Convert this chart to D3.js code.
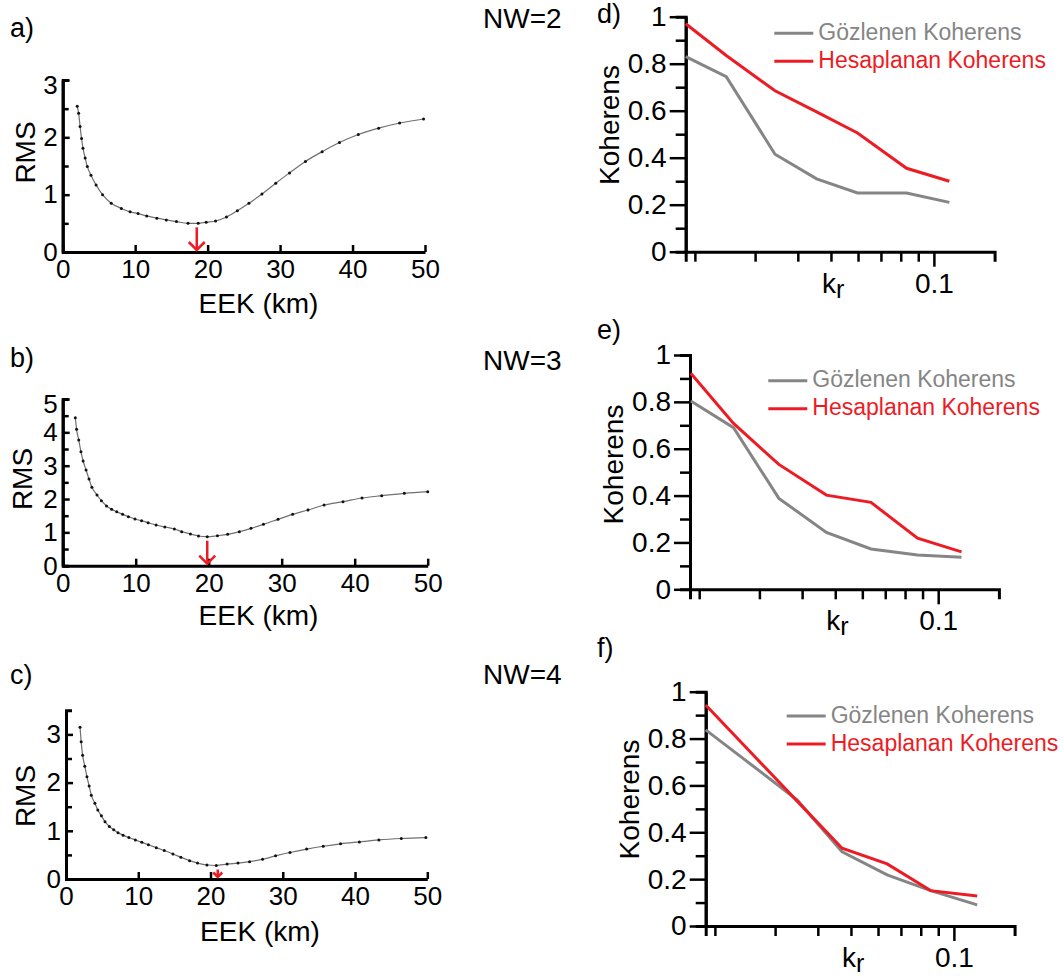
<!DOCTYPE html>
<html><head><meta charset="utf-8">
<script src="https://cdn.jsdelivr.net/npm/d3@7"></script>
<style>
body{margin:0;background:#fff;}
svg{display:block;font-family:"Liberation Sans", Arial, sans-serif;}
</style></head><body>
<svg id="chart" width="1064" height="978"></svg>
<script>
// ---------------- DATA ----------------
const eekA = [2.0, 2.2, 2.4, 2.6, 2.8, 3.1, 3.4, 3.9, 4.6, 5.5, 6.7, 8.1, 9.3, 10.4, 11.6, 13.0, 14.3, 15.7, 17.3, 18.7, 19.8, 21.1, 22.6, 24.1, 25.7, 27.5, 29.4, 31.3, 33.5, 35.8, 38.2, 40.8, 43.6, 46.5, 49.8];
const rmsA = [2.54, 2.42, 2.19, 1.98, 1.81, 1.64, 1.49, 1.34, 1.17, 1.0, 0.85, 0.76, 0.70, 0.67, 0.63, 0.59, 0.56, 0.53, 0.50, 0.50, 0.52, 0.54, 0.61, 0.72, 0.85, 1.01, 1.20, 1.38, 1.58, 1.75, 1.91, 2.05, 2.16, 2.25, 2.32];

const eekB = [1.73, 1.9, 2.2, 2.5, 2.8, 3.2, 3.6, 4.0, 4.7, 5.3, 6.0, 6.7, 7.4, 8.2, 9.0, 9.9, 10.8, 11.7, 12.8, 14.0, 15.3, 16.3, 17.5, 18.6, 19.8, 21.2, 22.6, 24.2, 25.8, 27.5, 29.5, 31.5, 33.6, 35.8, 38.4, 41.0, 43.7, 46.8, 50.0];
const rmsB = [4.44, 4.09, 3.77, 3.42, 3.14, 2.87, 2.6, 2.35, 2.12, 1.95, 1.79, 1.69, 1.62, 1.54, 1.47, 1.40, 1.35, 1.29, 1.22, 1.16, 1.10, 1.02, 0.95, 0.89, 0.87, 0.90, 0.94, 1.02, 1.12, 1.24, 1.39, 1.54, 1.67, 1.82, 1.92, 2.03, 2.10, 2.17, 2.22];

const eekC = [1.94, 2.1, 2.3, 2.6, 2.9, 3.2, 3.5, 4.0, 4.4, 4.9, 5.4, 6.0, 6.6, 7.2, 7.9, 8.7, 9.6, 10.5, 11.4, 12.5, 13.6, 14.8, 15.9, 17.1, 18.2, 19.5, 20.8, 22.3, 23.8, 25.4, 27.2, 29.0, 31.0, 33.3, 35.6, 38.0, 40.6, 43.3, 46.4, 49.8];
const rmsC = [3.15, 2.85, 2.57, 2.34, 2.12, 1.93, 1.74, 1.57, 1.43, 1.31, 1.19, 1.09, 1.02, 0.96, 0.91, 0.86, 0.81, 0.76, 0.71, 0.65, 0.59, 0.52, 0.45, 0.38, 0.33, 0.29, 0.28, 0.31, 0.33, 0.36, 0.41, 0.48, 0.55, 0.62, 0.68, 0.73, 0.77, 0.81, 0.84, 0.86];

const bestEEK = [18.5, 19.8, 21.0];          // red arrows (minimum RMS)
const rmsMax = [3, 5, 3.5];
const rmsTicks = [[0, 1, 2, 3], [0, 1, 2, 3, 4, 5], [0, 1, 2, 3]];
const eekTicks = [0, 10, 20, 30, 40, 50];

const krD = [0.0188, 0.0247, 0.0343, 0.0454, 0.0598, 0.0832, 0.111];
const obsD = [0.83, 0.745, 0.415, 0.31, 0.25, 0.25, 0.21];
const calcD = [0.97, 0.835, 0.685, 0.595, 0.505, 0.355, 0.30];

const krE = [0.0189, 0.0252, 0.0342, 0.0471, 0.0636, 0.087, 0.117];
const obsE = [0.804, 0.69, 0.388, 0.243, 0.172, 0.146, 0.137];
const calcE = [0.922, 0.708, 0.533, 0.402, 0.371, 0.218, 0.16];

const krF = [0.0188, 0.0246, 0.0348, 0.0471, 0.0638, 0.0855, 0.117];
const obsF = [0.837, 0.707, 0.538, 0.317, 0.218, 0.151, 0.09];
const calcF = [0.943, 0.764, 0.533, 0.332, 0.265, 0.151, 0.128];

const cohTicks = [0, 0.2, 0.4, 0.6, 0.8, 1];
const cohMinor = [0.1, 0.3, 0.5, 0.7, 0.9];
const krMinor = [0.02, 0.03, 0.04, 0.05, 0.06, 0.07, 0.08, 0.09];
const krMajor = [0.1];

const nwLabels = ["NW=2", "NW=3", "NW=4"];
const leftTags = ["a)", "b)", "c)"];
const rightTags = ["d)", "e)", "f)"];
const legendLabels = ["Gözlenen Koherens", "Hesaplanan Koherens"];
const colObs = "#858585", colCalc = "#ed1c24";

// ---------------- LAYOUT ----------------
const leftLayout = [
  {left: 62.7, right: 425, bottom: 252, top: 80, tagY: 37, nwY: 28, rmsX: 35, rmsY: 152.5, eekX: 258.5, eekY: 313},
  {left: 62.7, right: 427.7, bottom: 565.7, top: 399, tagY: 367, nwY: 370, rmsX: 32, rmsY: 479, eekX: 258.5, eekY: 625},
  {left: 66, right: 427.3, bottom: 879, top: 710.3, tagY: 684, nwY: 684, rmsX: 35, rmsY: 796, eekX: 260, eekY: 941}
];
const rightLayout = [
  {left: 685.7, bottom: 251.7, top: 16.7, tagY: 23, kohX: 619, kohY: 125, legX: 774.3, legY: 33.3},
  {left: 690, bottom: 589.3, top: 355, tagY: 339, kohX: 623, kohY: 464.5, legX: 768.3, legY: 380.7},
  {left: 705.7, bottom: 926, top: 691.7, tagY: 657, kohX: 639, kohY: 799.5, legX: 786.7, legY: 716}
];

const svg = d3.select("#chart");
svg.append("rect").attr("width", 1064).attr("height", 978).attr("fill", "#fff");

function styleAxis(g, fs) {
  g.attr("font-family", null).attr("font-size", null);
  g.select(".domain").attr("stroke", "#000").attr("stroke-width", 3);
  g.selectAll(".tick line").attr("stroke", "#000").attr("stroke-width", 2.5);
  g.selectAll(".tick text").attr("fill", "#000").style("font-size", fs + "px");
}

// ---------------- LEFT PANELS ----------------
const leftData = [[eekA, rmsA], [eekB, rmsB], [eekC, rmsC]];
leftData.forEach(([eek, rms], i) => {
  const L = leftLayout[i];
  const x = d3.scaleLinear().domain([0, 50]).range([L.left, L.right]);
  const y = d3.scaleLinear().domain([0, rmsMax[i]]).range([L.bottom, L.top]);
  const g = svg.append("g");

  const minor = d3.range(0.5, rmsMax[i], 1);
  g.append("g").attr("transform", `translate(${L.left},0)`)
    .call(d3.axisLeft(y).tickValues(minor).tickSize(-6).tickFormat(""))
    .call(a => styleAxis(a, 26));
  const ya = g.append("g").attr("transform", `translate(${L.left},0)`)
    .call(d3.axisLeft(y).tickValues(rmsTicks[i]).tickSizeInner(-7).tickSizeOuter(0).tickPadding(5)
      .tickFormat(d3.format("d")))
    .call(a => styleAxis(a, 26));
  ya.selectAll(".tick text").filter(d => d === rmsMax[i]).attr("dy", "0.52em");

  g.append("g").attr("transform", `translate(0,${L.bottom})`)
    .call(d3.axisBottom(x).tickValues(eekTicks).tickSizeInner(-7).tickSizeOuter(0).tickPadding(8)
      .tickFormat(d3.format("d")))
    .call(a => styleAxis(a, 26));

  const pts = eek.map((e, k) => ({e, r: rms[k]}));
  g.append("path").datum(pts)
    .attr("fill", "none").attr("stroke", "#707070").attr("stroke-width", 1.2)
    .attr("d", d3.line().x(d => x(d.e)).y(d => y(d.r)).curve(d3.curveMonotoneX));
  g.selectAll("circle.pt").data(pts).join("circle")
    .attr("cx", d => x(d.e)).attr("cy", d => y(d.r)).attr("r", 1.5).attr("fill", "#111");

  // red arrow at best EEK
  const ax = x(bestEEK[i]);
  const minR = d3.min(rms);
  const y1 = y(minR) + 4, y2 = y(0) - 2;
  const head = Math.min(8, (y2 - y1) * 0.6);
  g.append("line").attr("x1", ax).attr("x2", ax).attr("y1", y1).attr("y2", y2)
    .attr("stroke", colCalc).attr("stroke-width", 2.5);
  g.append("path").attr("d", `M${ax - head},${y2 - head}L${ax},${y2}L${ax + head},${y2 - head}`)
    .attr("fill", "none").attr("stroke", colCalc).attr("stroke-width", 2.5);

  svg.append("text").attr("x", 10).attr("y", L.tagY).style("font-size", "27px").text(leftTags[i]);
  svg.append("text").attr("x", 483).attr("y", L.nwY).style("font-size", "28px").text(nwLabels[i]);
  svg.append("text").attr("transform", `translate(${L.rmsX},${L.rmsY}) rotate(-90)`)
    .attr("text-anchor", "middle").style("font-size", "28px").text("RMS");
  svg.append("text").attr("x", L.eekX).attr("y", L.eekY)
    .attr("text-anchor", "middle").style("font-size", "28px").text("EEK (km)");
});

// ---------------- RIGHT PANELS ----------------
const rightData = [[krD, obsD, calcD], [krE, obsE, calcE], [krF, obsF, calcF]];
rightData.forEach(([kr, obs, calc], i) => {
  const R = rightLayout[i];
  const x = d3.scaleLog().domain([0.0188, 0.1505]).range([R.left, R.left + 308.9]);
  const y = d3.scaleLinear().domain([0, 1]).range([R.bottom, R.top]);
  const g = svg.append("g");

  g.append("g").attr("transform", `translate(0,${R.bottom})`)
    .call(d3.axisBottom(x).tickValues(krMinor).tickSize(10).tickFormat(""))
    .call(a => styleAxis(a, 28));
  const xm = g.append("g").attr("transform", `translate(0,${R.bottom})`)
    .call(d3.axisBottom(x).tickValues(krMajor).tickSize(15).tickPadding(6).tickFormat(d3.format(".1f")))
    .call(a => styleAxis(a, 28));
  xm.select(".domain").remove();

  g.append("g").attr("transform", `translate(${R.left},0)`)
    .call(d3.axisLeft(y).tickValues(cohMinor).tickSize(10).tickFormat(""))
    .call(a => styleAxis(a, 28));
  g.append("g").attr("transform", `translate(${R.left},0)`)
    .call(d3.axisLeft(y).tickValues(cohTicks).tickSizeInner(16).tickSizeOuter(0).tickPadding(3)
      .tickFormat(d => (d === 0 || d === 1) ? String(d) : d3.format(".1f")(d)))
    .call(a => styleAxis(a, 28));

  const line = d3.line().x(d => x(d.k)).y(d => y(d.v));
  g.append("path").datum(kr.map((k, j) => ({k, v: obs[j]})))
    .attr("fill", "none").attr("stroke", colObs).attr("stroke-width", 3).attr("d", line);
  g.append("path").datum(kr.map((k, j) => ({k, v: calc[j]})))
    .attr("fill", "none").attr("stroke", colCalc).attr("stroke-width", 3).attr("d", line);

  // legend
  [colObs, colCalc].forEach((c, j) => {
    const ly = R.legY + j * 28;
    g.append("line").attr("x1", R.legX).attr("x2", R.legX + 39).attr("y1", ly).attr("y2", ly)
      .attr("stroke", c).attr("stroke-width", 3);
    g.append("text").attr("x", R.legX + 44).attr("y", ly + 6.5).attr("fill", c)
      .style("font-size", "23px").text(legendLabels[j]);
  });

  // k_r label
  const kt = svg.append("text").attr("x", x(0.1) - 112).attr("y", R.bottom + 41).style("font-size", "28px");
  kt.append("tspan").text("k");
  kt.append("tspan").attr("dy", 5).style("font-size", "25px").text("r");

  svg.append("text").attr("x", 597).attr("y", R.tagY).style("font-size", "27px").text(rightTags[i]);
  svg.append("text").attr("transform", `translate(${R.kohX},${R.kohY}) rotate(-90)`)
    .attr("text-anchor", "middle").style("font-size", "28px").text("Koherens");
});
</script>
</body></html>
